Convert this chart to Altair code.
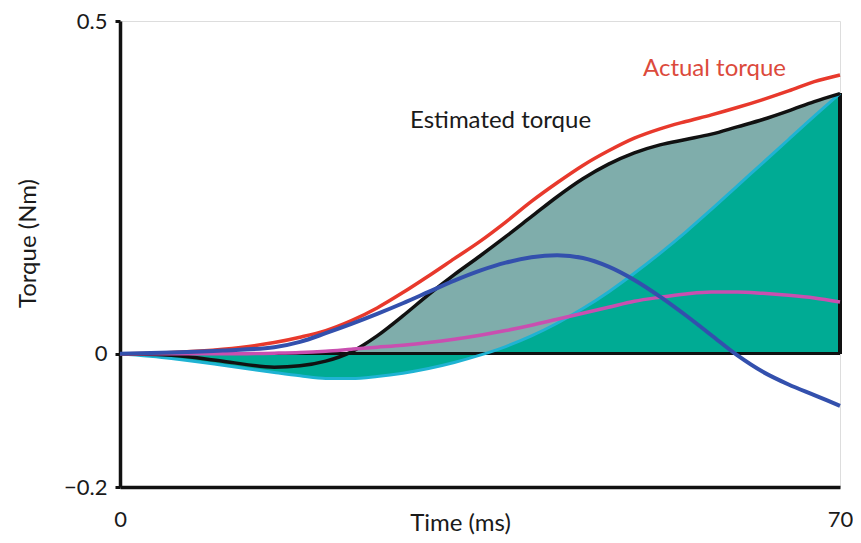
import altair as alt
import pandas as pd

# time points (ms)
time = [0, 5, 10, 15, 17.5, 20, 22.5, 25, 27.5, 30, 32.5, 35, 37.5, 40, 42.5,
        45, 47.5, 50, 52.5, 55, 57.5, 60, 62.5, 65, 67.5, 70]

actual = [0, 0.002, 0.007, 0.017, 0.025, 0.035, 0.050, 0.069, 0.092, 0.117, 0.143,
          0.169, 0.198, 0.229, 0.257, 0.283, 0.305, 0.324, 0.338, 0.349, 0.359,
          0.370, 0.382, 0.395, 0.409, 0.419]

estimated = [0, -0.002, -0.011, -0.020, -0.018, -0.011, 0.003, 0.027, 0.057, 0.089,
             0.119, 0.147, 0.176, 0.206, 0.236, 0.263, 0.285, 0.302, 0.314, 0.322,
             0.330, 0.341, 0.352, 0.365, 0.379, 0.391]

comp_blue = [0, 0.002, 0.005, 0.010, 0.018, 0.031, 0.045, 0.060, 0.076, 0.093, 0.110,
             0.125, 0.137, 0.145, 0.148, 0.144, 0.131, 0.111, 0.086, 0.058, 0.028,
             -0.002, -0.027, -0.046, -0.062, -0.078]

comp_magenta = [0, 0, 0, 0.001, 0.002, 0.004, 0.007, 0.010, 0.013, 0.017, 0.022,
                0.028, 0.035, 0.043, 0.052, 0.061, 0.070, 0.079, 0.085, 0.090, 0.093,
                0.093, 0.091, 0.088, 0.084, 0.078]

comp_cyan = [0, -0.007, -0.017, -0.028, -0.033, -0.037, -0.037, -0.034, -0.029, -0.022,
             -0.013, -0.002, 0.011, 0.027, 0.046, 0.068, 0.093, 0.121, 0.151, 0.183,
             0.217, 0.252, 0.287, 0.322, 0.357, 0.391]

df = pd.DataFrame({
    "t": time,
    "actual": actual,
    "estimated": estimated,
    "blue": comp_blue,
    "magenta": comp_magenta,
    "cyan": comp_cyan,
})

X_DOMAIN = [0, 70]
Y_DOMAIN = [-0.2, 0.5]
FONT = "Lato"
TXT = "#1a1a1a"

x_axis = alt.X(
    "t:Q",
    scale=alt.Scale(domain=X_DOMAIN, nice=False, zero=False),
    axis=alt.Axis(
        values=[0, 70], title="Time (ms)", grid=False, ticks=False,
        domainWidth=3.5, domainColor="#111111", labelPadding=22,
        labelFontSize=22, labelFont=FONT, labelColor=TXT,
        titleFontSize=24, titleFont=FONT, titleFontWeight="normal", titleColor=TXT,
        titleX=340, titleY=36, titleBaseline="middle", titleAlign="center",
        labelFlush=False,
    ),
)

y_scale = alt.Scale(domain=Y_DOMAIN, nice=False, zero=False)

y_axis = alt.Axis(
    values=[-0.2, 0, 0.5], title="Torque (Nm)", grid=False,
    labelExpr="datum.value < 0 ? '\u22120.2' : (datum.value > 0 ? '0.5' : '0')",
    domainWidth=3.5, domainColor="#111111", tickWidth=3, tickSize=5, tickColor="#111111",
    labelPadding=8, labelFontSize=22, labelFont=FONT, labelColor=TXT,
    titleFontSize=24, titleFont=FONT, titleFontWeight="normal", titleColor=TXT,
    titleX=-92, titleY=222, titleAngle=-90, titleBaseline="middle", titleAlign="center",
)

base = alt.Chart(df)

gray_area = base.mark_area(color="#7fadab", interpolate="monotone", opacity=1).encode(
    x=x_axis,
    y=alt.Y("estimated:Q", scale=y_scale, axis=y_axis),
    y2=alt.Y2(datum=0),
)

green_area = base.mark_area(color="#00ab94", interpolate="monotone", opacity=1).encode(
    x="t:Q",
    y=alt.Y("cyan:Q", scale=y_scale),
    y2=alt.Y2(datum=0),
)

zero_rule = base.mark_rule(color="#111111", strokeWidth=2).encode(
    x=alt.datum(0), x2=alt.datum(70), y=alt.datum(0)
)
right_rule = base.mark_rule(color="#111111", strokeWidth=2.5).encode(
    x=alt.datum(70), y=alt.datum(0), y2=alt.datum(estimated[-1])
)

def line(col, color, width):
    return base.mark_line(color=color, strokeWidth=width, interpolate="monotone").encode(
        x="t:Q", y=alt.Y(f"{col}:Q", scale=y_scale)
    )

cyan_line = line("cyan", "#1fb3d3", 3)
black_line = line("estimated", "#111111", 3.5)
magenta_line = line("magenta", "#c94fb0", 3.5)
red_line = line("actual", "#e8392c", 3.5)
blue_line = line("blue", "#3350ad", 4)

labels_df = pd.DataFrame({
    "label": ["Estimated torque", "Actual torque"],
    "lx": [37.0, 57.8],
    "ly": [0.350, 0.428],
    "col": [TXT, "#dc4a3c"],
})

label_text = alt.Chart(labels_df).mark_text(
    fontSize=24, font=FONT, align="center", baseline="middle"
).encode(
    x="lx:Q", y=alt.Y("ly:Q", scale=y_scale),
    text="label:N", color=alt.Color("col:N", scale=None),
)

chart = alt.layer(
    gray_area, green_area, zero_rule, right_rule,
    cyan_line, black_line, magenta_line, red_line, blue_line, label_text,
).properties(
    width=720, height=466,
    padding={"left": 112, "top": 13, "right": 13, "bottom": 48},
    autosize=alt.AutoSizeParams(type="none"),
).configure_view(stroke=None).configure(background="white")

chart.save("out.html", embed_options={"renderer": "svg", "actions": False})
